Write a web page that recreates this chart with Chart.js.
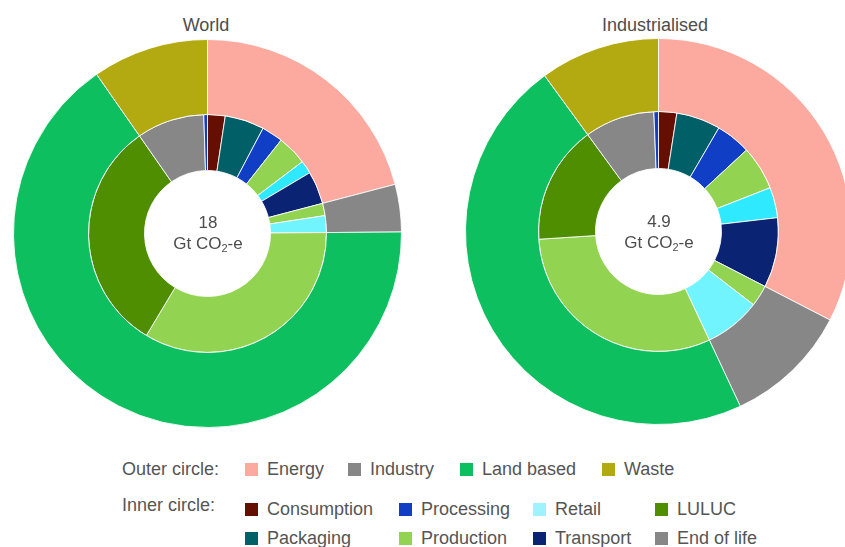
<!DOCTYPE html>
<html>
<head>
<meta charset="utf-8">
<script src="https://cdn.jsdelivr.net/npm/chart.js@4"></script>
<style>
    html, body {
        margin: 0;
        padding: 0;
        background: #fff;
    }
    body {
        width: 845px;
        height: 547px;
        overflow: hidden;
        position: relative;
        font-family: "Liberation Sans", Arial, Helvetica, sans-serif;
        color: #4d4d4d;
    }
    .title {
        position: absolute;
        width: 200px;
        font-size: 18px;
        line-height: 20px;
        text-align: center;
    }
    .chart-box {
        position: absolute;
    }
    .center-text {
        position: absolute;
        width: 120px;
        font-size: 17px;
        line-height: 21px;
        text-align: center;
    }
    .center-text sub {
        font-size: 11px;
        line-height: 0;
        vertical-align: -3px;
    }
    .lg {
        position: absolute;
        font-size: 18px;
        line-height: 20px;
        white-space: nowrap;
        color: #555;
    }
    .sw {
        position: absolute;
        width: 13px;
        height: 13px;
    }
</style>
</head>
<body>

<div class="title" style="left:106px; top:15px;">World</div>
<div class="title" style="left:555px; top:15px;">Industrialised</div>

<canvas id="worldChart" class="chart-box" width="389" height="389" style="left:13px; top:39px;"></canvas>
<canvas id="indChart" class="chart-box" width="387" height="387" style="left:465px; top:38px;"></canvas>

<div class="center-text" style="left:148px; top:212px;">18<br>Gt CO<sub>2</sub>-e</div>
<div class="center-text" style="left:599px; top:211px;">4.9<br>Gt CO<sub>2</sub>-e</div>

<div id="legend"></div>

<script>
// Outer ring categories (Gt CO2-e)
const outerLabels = ['Energy', 'Industry', 'Land based', 'Waste'];
const outerColors = ['#fcaaa0', '#878787', '#0ebf60', '#b3aa11'];

// Inner ring stages, grouped under the outer categories
const innerLabels = ['Consumption', 'Packaging', 'Processing', 'Production', 'Retail', 'Transport',
                     'Production', 'Retail',
                     'Production', 'LULUC',
                     'End of life', 'Processing'];
const innerColors = ['#650e02', '#015f68', '#103fc6', '#93d352', '#2fe9ff', '#0a2473',
                     '#93d352', '#72f4ff',
                     '#93d352', '#4e8e00',
                     '#878787', '#103fc6'];

const worldOuter = [3.76, 0.71, 11.76, 1.74];
const worldInner = [0.43, 0.96, 0.52, 0.73, 0.32, 0.80, 0.30, 0.41, 6.06, 5.70, 1.65, 0.09];

const indOuter = [1.59, 0.51, 2.29, 0.49];
const indInner = [0.12, 0.29, 0.23, 0.29, 0.20, 0.46, 0.14, 0.37, 1.51, 0.78, 0.46, 0.03];

// Legend entries
const legendInner = ['Consumption', 'Processing', 'Retail', 'LULUC',
                     'Packaging', 'Production', 'Transport', 'End of life'];
const legendInnerColors = ['#650e02', '#103fc6', '#9ff3ff', '#4e8e00',
                           '#015f68', '#93d352', '#0a2473', '#878787'];

function makeChart(id, outer, inner, outerWeight, innerWeight) {
    return new Chart(document.getElementById(id), {
        type: 'doughnut',
        data: {
            labels: innerLabels,
            datasets: [{
                label: 'Outer circle',
                data: outer,
                names: outerLabels,
                backgroundColor: outerColors,
                borderColor: 'rgba(255,255,255,0.85)',
                borderWidth: 1,
                weight: outerWeight
            }, {
                label: 'Inner circle',
                data: inner,
                names: innerLabels,
                backgroundColor: innerColors,
                borderColor: 'rgba(255,255,255,0.85)',
                borderWidth: 1,
                weight: innerWeight
            }]
        },
        options: {
            responsive: false,
            animation: false,
            devicePixelRatio: 1,
            cutout: 63,
            layout: { padding: 0 },
            plugins: {
                legend: { display: false },
                tooltip: {
                    callbacks: {
                        label: function(ctx) {
                            return ctx.dataset.names[ctx.dataIndex] + ': ' + ctx.parsed + ' Gt';
                        }
                    }
                }
            }
        }
    });
}

makeChart('worldChart', worldOuter, worldInner, 75, 56);
makeChart('indChart', indOuter, indInner, 73, 57);

// Legend (two groups, built as HTML)
const legend = document.getElementById('legend');

function addText(text, x, y) {
    const d = document.createElement('div');
    d.className = 'lg';
    d.style.left = x + 'px';
    d.style.top = y + 'px';
    d.textContent = text;
    legend.appendChild(d);
}

function addItem(text, color, x, y) {
    const s = document.createElement('div');
    s.className = 'sw';
    s.style.left = x + 'px';
    s.style.top = (y + 4) + 'px';
    s.style.background = color;
    legend.appendChild(s);
    addText(text, x + 22, y);
}

addText('Outer circle:', 122, 459);
const row1X = [245, 348, 460, 602];
outerLabels.forEach((l, i) => addItem(l, outerColors[i], row1X[i], 459));

addText('Inner circle:', 122, 495);
const colX = [245, 399, 533, 655];
legendInner.forEach((l, i) => {
    const row = Math.floor(i / 4);
    addItem(l, legendInnerColors[i], colX[i % 4], row === 0 ? 499 : 528);
});
</script>
</body>
</html>
